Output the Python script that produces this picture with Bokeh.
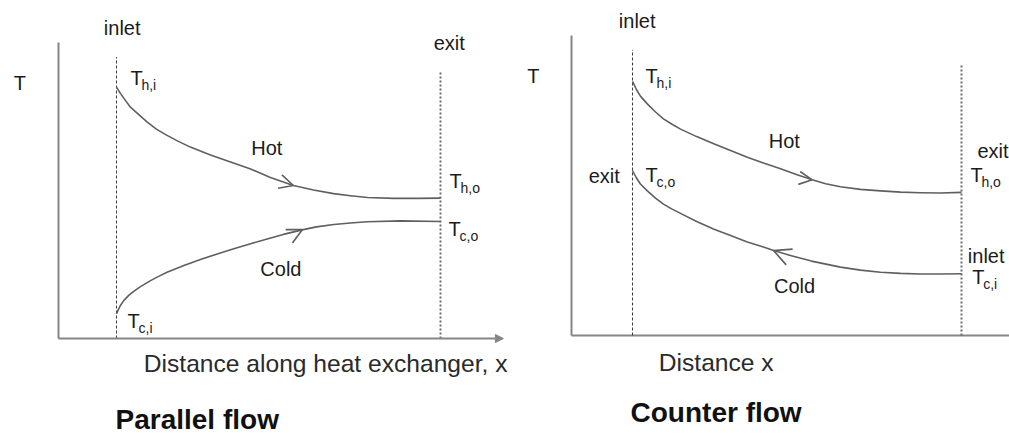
from bokeh.plotting import figure
from bokeh.layouts import row
from bokeh.models import Range1d, Arrow, OpenHead, NormalHead
from bokeh.core.properties import value
from bokeh.embed import file_html
from bokeh.resources import INLINE

# ---------------- data (x: fraction of exchanger length, inlet=0, exit=1; T: arbitrary temperature units)
# Parallel flow
par_hot_x = [0.0, 0.012, 0.028, 0.043, 0.068, 0.095, 0.123, 0.156, 0.191, 0.228, 0.290, 0.352,
             0.414, 0.475, 0.546, 0.608, 0.670, 0.722, 0.775, 0.855, 0.929, 1.0]
par_hot_T = [83.8, 81.7, 79.3, 77.1, 74.7, 72.1, 69.8, 67.7, 65.7, 63.8, 61.2, 58.8,
             56.5, 53.7, 51.0, 49.5, 48.3, 47.6, 47.0, 46.7, 46.7, 46.8]
par_cold_x = [0.0, 0.006, 0.012, 0.023, 0.037, 0.053, 0.074, 0.105, 0.130, 0.156, 0.208, 0.259,
              0.311, 0.362, 0.414, 0.465, 0.515, 0.573, 0.617, 0.671, 0.722, 0.774, 0.877, 1.0]
par_cold_T = [8.2, 9.7, 11.0, 12.7, 14.3, 15.7, 17.3, 19.3, 20.7, 22.1, 24.3, 26.3,
              28.2, 29.9, 31.6, 33.2, 34.7, 36.2, 37.2, 38.0, 38.5, 38.9, 39.2, 39.0]

# Counter flow
cnt_hot_x = [0.0, 0.012, 0.024, 0.045, 0.070, 0.094, 0.119, 0.146, 0.195, 0.247, 0.298, 0.349,
             0.398, 0.450, 0.498, 0.546, 0.587, 0.632, 0.693, 0.754, 0.815, 0.875, 0.936, 1.0]
cnt_hot_T = [84.7, 82.0, 79.8, 77.2, 74.5, 72.2, 70.5, 68.8, 66.3, 63.9, 61.7, 59.4,
             57.5, 55.6, 53.7, 51.9, 50.6, 49.6, 48.7, 48.2, 47.8, 47.6, 47.5, 47.7]
cnt_cold_x = [0.0, 0.012, 0.024, 0.045, 0.070, 0.094, 0.119, 0.146, 0.195, 0.246, 0.298, 0.349,
              0.398, 0.429, 0.480, 0.544, 0.632, 0.693, 0.754, 0.815, 0.875, 0.936, 1.0]
cnt_cold_T = [55.0, 52.5, 50.5, 48.2, 45.8, 43.8, 42.2, 40.7, 38.0, 35.5, 33.3, 31.2,
              29.5, 28.3, 26.7, 24.8, 22.8, 21.8, 21.1, 20.7, 20.5, 20.5, 20.6]

# flow-direction arrow heads (tail -> tip)
par_arrow_x0 = [0.508, 0.526]
par_arrow_T0 = [52.2, 33.7]
par_arrow_x1 = [0.546, 0.574]
par_arrow_T1 = [51.0, 36.3]
cnt_arrow_x0 = [0.508, 0.483]
cnt_arrow_T0 = [52.5, 25.9]
cnt_arrow_x1 = [0.546, 0.429]
cnt_arrow_T1 = [51.9, 28.3]
arrow_sizes_par = [14, 15]
arrow_sizes_cnt = [13, 17]

# text labels
par_words = ["inlet", "exit", "T", "Hot", "Cold"]
par_words_x = [-0.039, 0.979, -0.317, 0.416, 0.444]
par_words_T = [101.0, 96.0, 82.4, 61.0, 20.4]
par_temp_subs = ["h,i", "h,o", "c,o", "c,i"]
par_temp_x = [0.043, 1.028, 1.025, 0.034]
par_temp_T = [84.3, 50.0, 33.7, 3.3]
par_xlabel = "Distance along heat exchanger, x"
par_title = "Parallel flow"

cnt_words = ["inlet", "T", "Hot", "Cold", "exit", "inlet"]
cnt_words_x = [-0.0416, -0.32, 0.414, 0.430, 1.0486, 1.0192]
cnt_words_T = [102.2, 83.9, 62.2, 13.9, 58.9, 23.9]
cnt_words_r = ["exit"]
cnt_words_r_x = [-0.0386]
cnt_words_r_T = [50.6]
cnt_temp_subs = ["h,i", "c,o", "h,o", "c,i"]
cnt_temp_x = [0.0395, 0.0395, 1.027, 1.0325]
cnt_temp_T = [83.7, 50.7, 50.7, 16.7]
cnt_xlabel = "Distance x"
cnt_title = "Counter flow"

# ---------------- styling
FONT = value("Liberation Sans")
TXT = "#1c1c1c"
CURVE = "#5f5f5f"
AXIS = "#858585"
H = 434


def make_panel(width, xr, yr):
    p = figure(width=width, height=H, x_range=Range1d(*xr), y_range=Range1d(*yr),
               output_backend="svg", toolbar_location=None,
               x_axis_type=None, y_axis_type=None, min_border=0,
               outline_line_color=None, background_fill_color="white",
               border_fill_color="white")
    p.grid.visible = False
    return p


def draw_panel(p, hot_x, hot_T, cold_x, cold_T, ax_x, ax_top, x_end, arrow_on_axis,
               inlet_top, exit_top, ar_x0, ar_T0, ar_x1, ar_T1, ar_sizes,
               words, words_x, words_T, temp_subs, temp_x, temp_T, xlabel, xl_x, xl_T,
               title, t_x, t_T, words_r=None, words_r_x=None, words_r_T=None):
    # axes (drawn as plain lines, as in the schematic)
    p.line([ax_x, ax_x], [0, ax_top], line_color=AXIS, line_width=2)
    if arrow_on_axis:
        p.add_layout(Arrow(x_start=ax_x, y_start=0, x_end=x_end, y_end=0,
                           line_color=AXIS, line_width=2,
                           end=NormalHead(size=8, fill_color=AXIS, line_color=AXIS)))
    else:
        p.line([ax_x, x_end], [0, 0], line_color=AXIS, line_width=2)
    # inlet (dashed) and exit (dotted) stations
    p.line([hot_x[0], hot_x[0]], [0, inlet_top], line_color="#3a3a3a", line_width=1,
           line_dash="3 2")
    p.line([hot_x[-1], hot_x[-1]], [0, exit_top], line_color="#6e6e6e", line_width=2,
           line_dash="2 2")
    # temperature curves
    p.line(hot_x, hot_T, line_color=CURVE, line_width=1.6, line_join="round")
    p.line(cold_x, cold_T, line_color=CURVE, line_width=1.6, line_join="round")
    # flow arrows
    for xs, ys, xe, ye, sz in zip(ar_x0, ar_T0, ar_x1, ar_T1, ar_sizes):
        p.add_layout(Arrow(x_start=xs, y_start=ys, x_end=xe, y_end=ye, line_alpha=0,
                           end=OpenHead(size=sz, line_color=CURVE, line_width=1.6)))
    # labels (anchors are text baselines; offsets correct the renderer's baseline placement)
    p.text(words_x, words_T, text=words, text_font=FONT, text_font_size="20px",
           text_color=TXT, text_align="left", text_baseline="alphabetic", y_offset=-8)
    if words_r:
        p.text(words_r_x, words_r_T, text=words_r, text_font=FONT, text_font_size="20px",
               text_color=TXT, text_align="right", text_baseline="alphabetic", y_offset=-8)
    p.text(temp_x, temp_T, text=["T"] * len(temp_subs), text_font=FONT,
           text_font_size="20px", text_color=TXT, text_align="left",
           text_baseline="alphabetic", y_offset=-8)
    p.text(temp_x, temp_T, text=temp_subs, text_font=FONT, text_font_size="14px",
           text_color=TXT, text_align="left", text_baseline="alphabetic",
           x_offset=11, y_offset=-1)
    p.text([xl_x], [xl_T], text=[xlabel], text_font=FONT, text_font_size="24.6px",
           text_color="#2a2a2a", text_align="left", text_baseline="alphabetic", y_offset=-10)
    p.text([t_x], [t_T], text=[title], text_font=FONT, text_font_size="28px",
           text_font_style="bold", text_color="#111111", text_align="left",
           text_baseline="alphabetic", y_offset=-11)


p1 = make_panel(508, (-0.35802, 1.20988), (-32.0, 112.667))
draw_panel(p1, par_hot_x, par_hot_T, par_cold_x, par_cold_T,
           ax_x=-0.179, ax_top=98.7, x_end=1.194, arrow_on_axis=True,
           inlet_top=93.8, exit_top=88.8,
           ar_x0=par_arrow_x0, ar_T0=par_arrow_T0, ar_x1=par_arrow_x1, ar_T1=par_arrow_T1,
           ar_sizes=arrow_sizes_par,
           words=par_words, words_x=par_words_x, words_T=par_words_T,
           temp_subs=par_temp_subs, temp_x=par_temp_x, temp_T=par_temp_T,
           xlabel=par_xlabel, xl_x=0.0843, xl_T=-11.78,
           title=par_title, t_x=-0.003, t_T=-30.5)

p2 = make_panel(501, (-0.37690, 1.14590), (-33.0, 111.667))
draw_panel(p2, cnt_hot_x, cnt_hot_T, cnt_cold_x, cnt_cold_T,
           ax_x=-0.1854, ax_top=100.0, x_end=1.1459, arrow_on_axis=False,
           inlet_top=95.2, exit_top=90.6,
           ar_x0=cnt_arrow_x0, ar_T0=cnt_arrow_T0, ar_x1=cnt_arrow_x1, ar_T1=cnt_arrow_T1,
           ar_sizes=arrow_sizes_cnt,
           words=cnt_words, words_x=cnt_words_x, words_T=cnt_words_T,
           temp_subs=cnt_temp_subs, temp_x=cnt_temp_x, temp_T=cnt_temp_T,
           xlabel=cnt_xlabel, xl_x=0.080, xl_T=-12.2,
           title=cnt_title, t_x=-0.006, t_T=-29.33,
           words_r=cnt_words_r, words_r_x=cnt_words_r_x, words_r_T=cnt_words_r_T)

layout = row(p1, p2)
open("out.html", "w").write(file_html(layout, INLINE))
